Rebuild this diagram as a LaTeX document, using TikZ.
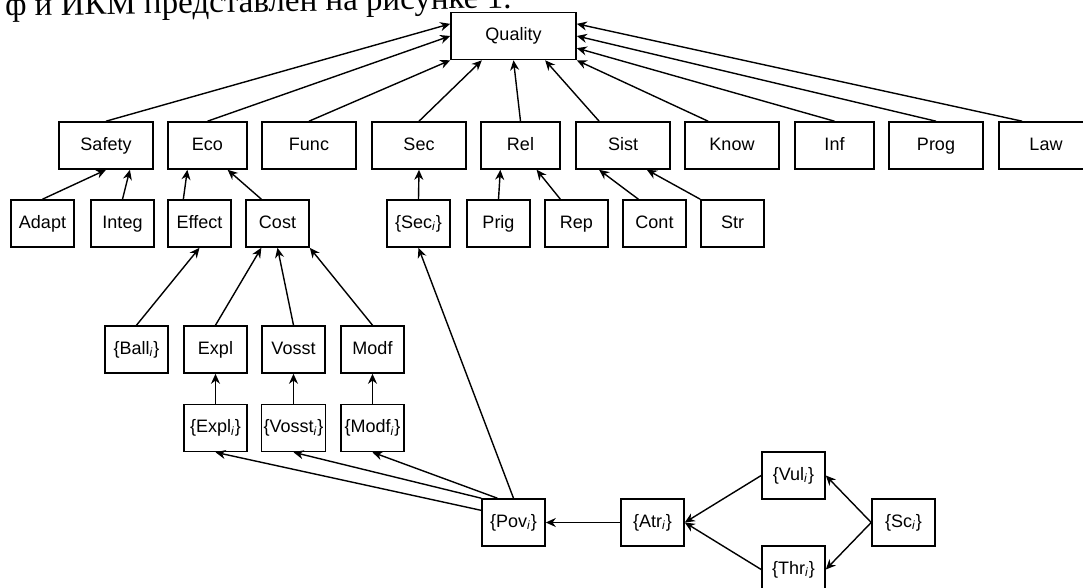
\documentclass[tikz,border=0pt]{standalone}
\usepackage{fontspec}
\setmainfont{Liberation Sans}
\newfontfamily\rmru{Liberation Serif}
\usepackage{tikz}
\usetikzlibrary{arrows.meta, calc}
\newcommand{\sub}[1]{\textsubscript{\textit{#1}}}
\tikzset{
  box/.style={draw, line width=0.8pt, minimum height=23.5pt, inner sep=1pt, text height=6.6pt, text depth=2pt, font=\fontsize{9}{11}\selectfont},
  wbox/.style={box, minimum width=47pt},
  mbox/.style={box, minimum width=39.5pt},
  sbox/.style={box, minimum width=31.5pt},
  arr/.style={-{Stealth[length=5pt, width=4.5pt]}, line width=0.7pt},
}

\begin{document}
\begin{tikzpicture}[x=0.5pt, y=-0.5pt]
  \useasboundingbox (0,0) rectangle (1083,588);
  \clip (0,0) rectangle (1083,588);
  \node[anchor=base east, rotate=0.9, font=\rmru\fontsize{16.5}{18}\selectfont, inner sep=0pt] (caption) at (512,8) {ф и ИКМ представлен на рисунке 1.};
  % top
  \node[box, minimum width=62.5pt] (quality) at (513.5,36) {Quality};
  % criteria
  \node[wbox] (safety) at (106,145.5) {Safety};
  \node[mbox] (eco) at (207.5,145.5) {Eco};
  \node[wbox] (func) at (309,145.5) {Func};
  \node[wbox] (sec) at (419,145.5) {Sec};
  \node[mbox] (rel) at (520.5,145.5) {Rel};
  \node[wbox] (sist) at (623,145.5) {Sist};
  \node[wbox] (know) at (732,145.5) {Know};
  \node[mbox] (inf) at (834.5,145.5) {Inf};
  \node[wbox] (prog) at (936,145.5) {Prog};
  \node[wbox] (law) at (1046,145.5) {Law};
  % sub-criteria
  \node[sbox] (adapt) at (42.5,223.5) {Adapt};
  \node[sbox] (integ) at (122.5,223.5) {Integ};
  \node[sbox] (effect) at (199.5,223.5) {Effect};
  \node[sbox] (cost) at (277.5,223.5) {Cost};
  \node[sbox] (seci) at (418.5,223.5) {\{Sec\sub{i}\}};
  \node[sbox] (prig) at (498.5,223.5) {Prig};
  \node[sbox] (rep) at (576.5,223.5) {Rep};
  \node[sbox] (cont) at (654.5,223.5) {Cont};
  \node[sbox] (str) at (732.5,223.5) {Str};
  % cost parts
  \node[sbox] (balli) at (136.5,349.5) {\{Ball\sub{i}\}};
  \node[sbox] (expl) at (215.5,349.5) {Expl};
  \node[sbox] (vosst) at (293.5,349.5) {Vosst};
  \node[sbox] (modf) at (372.5,349.5) {Modf};
  \node[sbox] (expli) at (215.5,428) {\{Expl\sub{i}\}};
  \node[sbox] (vossti) at (293.5,428) {\{Vosst\sub{i}\}};
  \node[sbox] (modfi) at (372.5,428) {\{Modf\sub{i}\}};
  % scenario chain
  \node[sbox] (povi) at (513.5,522.5) {\{Pov\sub{i}\}};
  \node[sbox] (atri) at (652.5,522.5) {\{Atr\sub{i}\}};
  \node[sbox] (vuli) at (793.5,475.5) {\{Vul\sub{i}\}};
  \node[sbox] (thri) at (793.5,569.5) {\{Thr\sub{i}\}};
  \node[sbox] (sci) at (903.5,522.5) {\{Sc\sub{i}\}};

  % criteria -> quality
  \draw[arr] (safety.north) -- ($(quality.north west)!0.25!(quality.south west)$);
  \draw[arr] (eco.north) -- (quality.west);
  \draw[arr] (func.north) -- (quality.south west);
  \draw[arr] (sec.north) -- ($(quality.south west)!0.25!(quality.south east)$);
  \draw[arr] (rel.north) -- (quality.south);
  \draw[arr] ($(sist.north west)!0.25!(sist.north east)$) -- ($(quality.south west)!0.75!(quality.south east)$);
  \draw[arr] ($(know.north west)!0.25!(know.north east)$) -- (quality.south east);
  \draw[arr] (inf.north) -- ($(quality.north east)!0.75!(quality.south east)$);
  \draw[arr] (prog.north) -- (quality.east);
  \draw[arr] ($(law.north west)!0.25!(law.north east)$) -- ($(quality.north east)!0.25!(quality.south east)$);
  % sub-criteria -> criteria
  \draw[arr] (adapt.north) -- (safety.south);
  \draw[arr] (integ.north) -- ($(safety.south west)!0.75!(safety.south east)$);
  \draw[arr] ($(effect.north west)!0.25!(effect.north east)$) -- ($(eco.south west)!0.25!(eco.south east)$);
  \draw[arr] ($(cost.north west)!0.25!(cost.north east)$) -- ($(eco.south west)!0.75!(eco.south east)$);
  \draw[arr] (seci.north) -- (sec.south);
  \draw[arr] (prig.north) -- ($(rel.south west)!0.25!(rel.south east)$);
  \draw[arr] ($(rep.north west)!0.25!(rep.north east)$) -- ($(rel.south west)!0.7!(rel.south east)$);
  \draw[arr] ($(cont.north west)!0.25!(cont.north east)$) -- ($(sist.south west)!0.25!(sist.south east)$);
  \draw[arr] (str.north west) -- ($(sist.south west)!0.75!(sist.south east)$);
  % cost parts
  \draw[arr] (balli.north) -- (effect.south);
  \draw[arr] (expl.north) -- ($(cost.south west)!0.25!(cost.south east)$);
  \draw[arr] (vosst.north) -- (cost.south);
  \draw[arr] (modf.north) -- (cost.south east);
  \draw[arr] (expli) -- (expl);
  \draw[arr] (vossti) -- (vosst);
  \draw[arr] (modfi) -- (modf);
  % scenario chain
  \draw[arr] ($(povi.north west)!0.25!(povi.south west)$) -- (expli.south);
  \draw[arr] (povi.north west) -- (vossti.south);
  \draw[arr] ($(povi.north west)!0.25!(povi.north east)$) -- (modfi.south);
  \draw[arr] (povi.north) -- (seci.south);
  \draw[arr] (atri) -- (povi);
  \draw[arr] (vuli.west) -- (atri.east);
  \draw[arr] (thri.west) -- (atri.east);
  \draw[arr] (sci.west) -- (vuli.east);
  \draw[arr] (sci.west) -- (thri.east);
\end{tikzpicture}
\end{document}
